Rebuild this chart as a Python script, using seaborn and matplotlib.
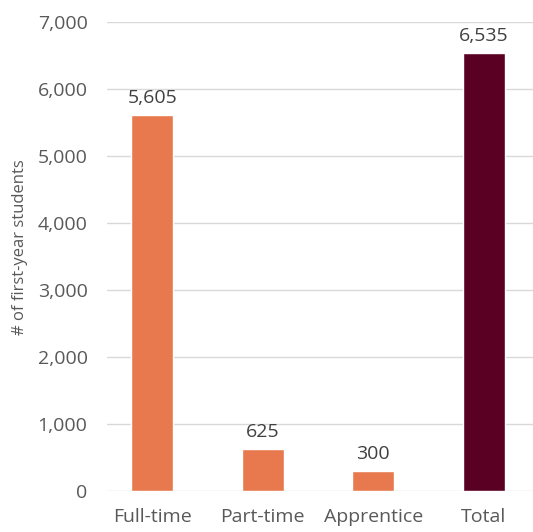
import matplotlib
matplotlib.use("Agg")

import matplotlib.pyplot as plt
import pandas as pd
import seaborn as sns

# Data
categories = ["Full-time", "Part-time", "Apprentice", "Total"]
students = [5605, 625, 300, 6535]

ORANGE = "#E8794E"
MAROON = "#5A0022"
GREY = "#595959"
GRID = "#D9D9D9"

sns.set_theme(style="white")
plt.rcParams["font.family"] = ["Open Sans", "DejaVu Sans"]

df = pd.DataFrame({"category": categories, "students": students})
palette = [ORANGE, ORANGE, ORANGE, MAROON]

fig = plt.figure(figsize=(5.33, 5.32), dpi=100)
ax = fig.add_axes([0.2007, 0.077, 0.80, 0.8816])

sns.barplot(data=df, x="category", y="students", hue="category",
            palette=palette, legend=False, width=0.38, saturation=1,
            ax=ax, zorder=3)

for i, v in enumerate(students):
    ax.text(i, v + 120, f"{v:,}", ha="center", va="bottom",
            fontsize=14, color="#404040")

ax.set_ylim(0, 7000)
ax.set_xlim(-0.41, 3.45)
ax.set_yticks(range(0, 7001, 1000))
ax.set_yticklabels([f"{t:,}" for t in range(0, 7001, 1000)])
ax.yaxis.grid(True, color=GRID, linewidth=1, zorder=0)
ax.set_axisbelow(True)

for s in ax.spines.values():
    s.set_visible(False)

ax.tick_params(axis="y", length=0, labelsize=14, labelcolor=GREY, pad=14)
ax.tick_params(axis="x", length=0, labelsize=14, labelcolor=GREY, pad=12)
ax.set_xlabel("")
ax.set_ylabel("# of first-year students", fontsize=12, color=GREY)
ax.yaxis.set_label_coords(-0.185, 0.52)

fig.savefig("out.png", dpi=100, facecolor="white")
